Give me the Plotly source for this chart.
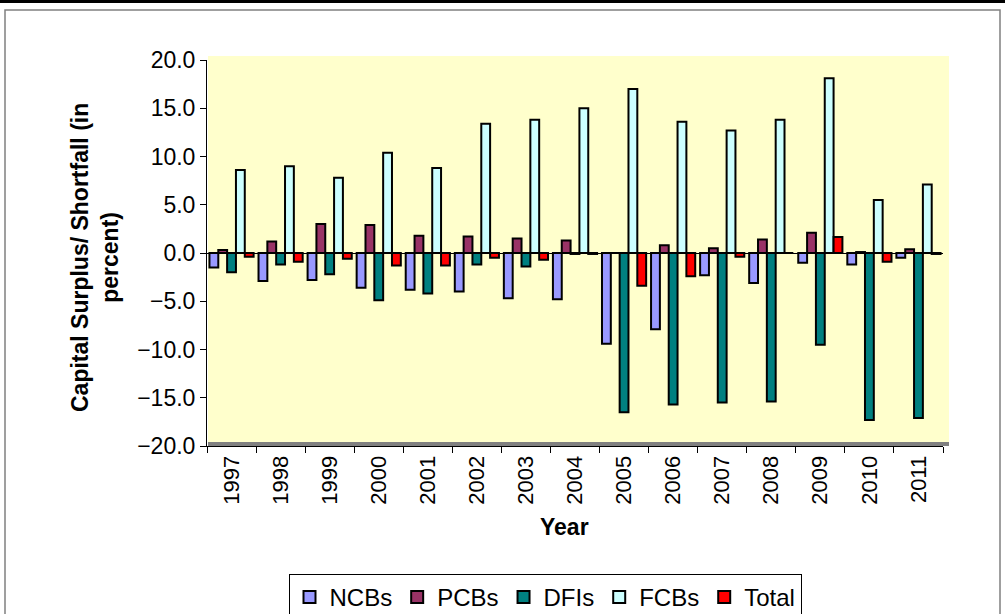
import plotly.graph_objects as go

YEARS = [str(y) for y in range(1997, 2012)]

NCBS = [-1.5, -2.9, -2.8, -3.6, -3.8, -4.0, -4.7, -4.8, -9.4, -7.9, -2.3, -3.1, -1.0, -1.2, -0.5]
PCBS = [0.3, 1.2, 3.0, 2.9, 1.8, 1.7, 1.5, 1.3, 0.0, 0.8, 0.5, 1.4, 2.1, 0.1, 0.4]
DFIS = [-2.0, -1.2, -2.2, -4.9, -4.2, -1.2, -1.4, -0.1, -16.5, -15.7, -15.5, -15.4, -9.5, -17.3, -17.1]
FCBS = [8.6, 9.0, 7.8, 10.4, 8.8, 13.4, 13.8, 15.0, 17.0, 13.6, 12.7, 13.8, 18.1, 5.5, 7.1]
TOTAL = [-0.4, -0.9, -0.6, -1.3, -1.3, -0.5, -0.7, -0.1, -3.4, -2.4, -0.4, 0.0, 1.65, -0.9, -0.1]

SERIES = [
    ("NCBs", NCBS, "#9999FF"),
    ("PCBs", PCBS, "#993366"),
    ("DFIs", DFIS, "#008080"),
    ("FCBs", FCBS, "#CCFFFF"),
    ("Total", TOTAL, "#FF0000"),
]

W, H = 1005, 614
L, R, T, B = 207, 943, 60, 446  # plot area in pixels
FONT = "Liberation Sans, Arial, sans-serif"


def px_x(x):
    return (x - L) / (R - L)


def px_y(y):
    return (B - y) / (B - T)


fig = go.Figure()
for name, vals, color in SERIES:
    fig.add_trace(
        go.Bar(
            x=YEARS,
            y=vals,
            name=name,
            marker=dict(color=color, line=dict(color="black", width=2)),
        )
    )

shapes = [
    # top rule of the page
    dict(type="line", xref="paper", yref="paper",
         x0=px_x(0), x1=px_x(W), y0=px_y(1.5), y1=px_y(1.5),
         line=dict(color="black", width=3)),
    # outer frame
    dict(type="rect", xref="paper", yref="paper",
         x0=px_x(5), x1=px_x(1000), y0=px_y(10), y1=px_y(640),
         line=dict(color="#808080", width=1.5)),
    # back wall
    dict(type="rect", xref="paper", yref="paper", layer="below",
         x0=px_x(208), x1=px_x(949), y0=px_y(443), y1=px_y(56),
         fillcolor="#FFFFCC", line=dict(width=0)),
    # floor
    dict(type="rect", xref="paper", yref="paper", layer="below",
         x0=px_x(208), x1=px_x(949), y0=px_y(446), y1=px_y(442),
         fillcolor="#808080", line=dict(width=0)),
]

fig.update_layout(
    width=W,
    height=H,
    margin=dict(l=L, r=W - R, t=T, b=H - B, autoexpand=False),
    paper_bgcolor="white",
    plot_bgcolor="rgba(0,0,0,0)",
    barmode="group",
    bargap=0.1,
    bargroupgap=0,
    font=dict(family=FONT, color="black", size=22),
    shapes=shapes,
    showlegend=True,
    legend=dict(
        orientation="h",
        xanchor="center",
        x=px_x(545),
        yanchor="top",
        y=px_y(574),
        bgcolor="white",
        bordercolor="black",
        borderwidth=1,
        font=dict(size=24),
        itemwidth=30,
        tracegroupgap=0,
    ),
    annotations=[
        dict(text="<b>Capital Surplus/ Shortfall (in<br>percent)</b>",
             xref="paper", yref="paper", x=px_x(95), y=px_y(258),
             textangle=-90, showarrow=False, font=dict(size=23),
             xanchor="center", yanchor="middle"),
        dict(text="<b>Year</b>",
             xref="paper", yref="paper", x=px_x(564), y=px_y(527),
             showarrow=False, font=dict(size=23),
             xanchor="center", yanchor="middle"),
    ],
)

fig.update_xaxes(
    type="category",
    showline=True,
    linecolor="black",
    linewidth=1,
    ticks="outside",
    tickson="boundaries",
    ticklen=6,
    tickcolor="black",
    tickangle=-90,
    tickfont=dict(size=22),
    showgrid=False,
)
fig.update_yaxes(
    range=[-20, 20],
    tickvals=[-20, -15, -10, -5, 0, 5, 10, 15, 20],
    tickformat=".1f",
    showline=True,
    linecolor="black",
    linewidth=1,
    ticks="outside",
    ticklen=6,
    tickcolor="black",
    tickfont=dict(size=23),
    showgrid=False,
    zeroline=True,
    zerolinecolor="black",
    zerolinewidth=1,
)

fig.write_html(
    "out.html",
    config={"displayModeBar": False},
    post_script="document.body.style.margin='0';",
)
